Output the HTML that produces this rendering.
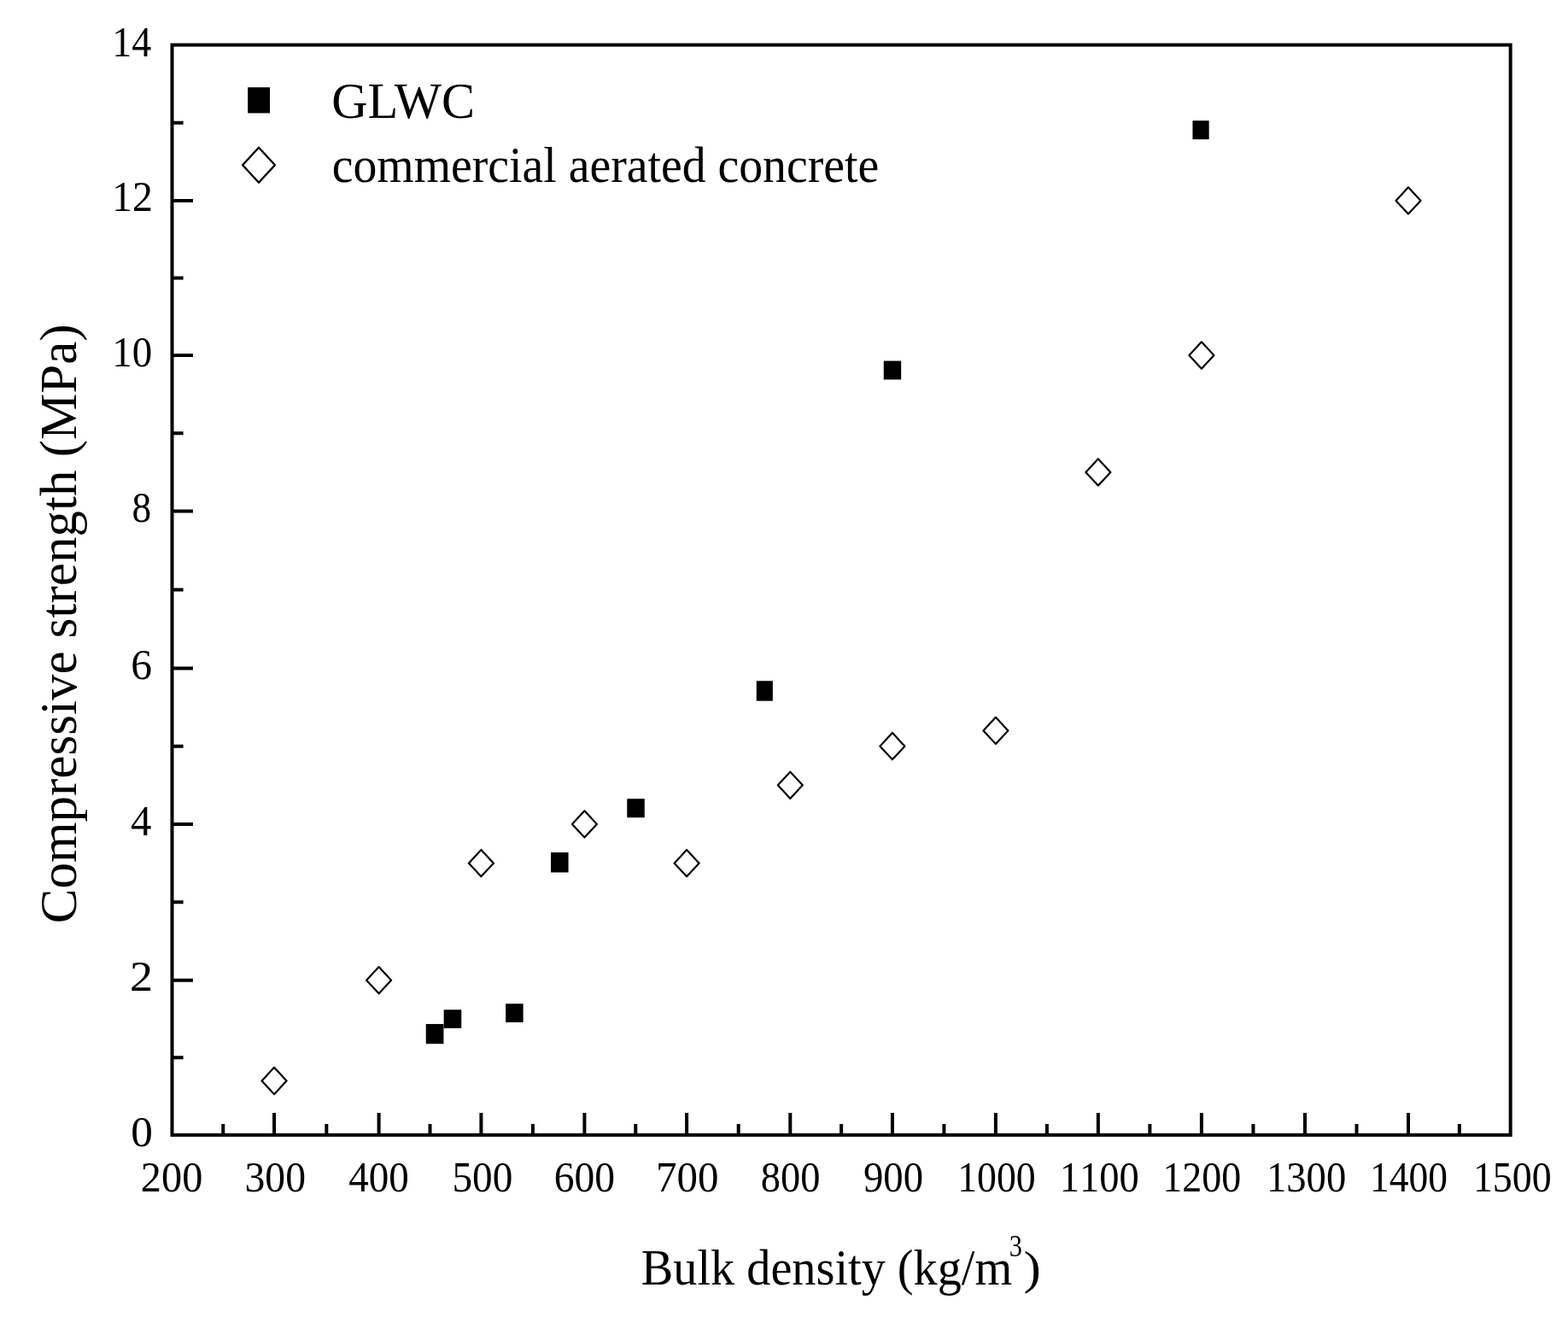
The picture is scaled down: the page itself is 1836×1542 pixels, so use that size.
<!DOCTYPE html>
<html><head><meta charset="utf-8"><title>Compressive strength vs bulk density</title>
<style>html,body{margin:0;padding:0;background:#fff;overflow:hidden} svg{display:block}</style>
</head><body>
<svg width="1836" height="1542" viewBox="0 0 1836 1542">
<rect width="1836" height="1542" fill="#fff"/>
<path d="M201.5,1238.30H214.60M201.5,1147.70H226.00M201.5,1056.33H214.60M201.5,964.95H226.00M201.5,873.67H214.60M201.5,782.40H226.00M201.5,690.45H214.60M201.5,598.50H226.00M201.5,507.25H214.60M201.5,416.00H226.00M201.5,325.45H214.60M201.5,234.90H226.00M201.5,143.75H214.60M261.27,1328.9V1315.90M321.05,1328.9V1303.10M382.33,1328.9V1315.90M443.60,1328.9V1303.10M503.50,1328.9V1315.90M563.40,1328.9V1303.10M623.90,1328.9V1315.90M684.40,1328.9V1303.10M744.25,1328.9V1315.90M804.10,1328.9V1303.10M864.70,1328.9V1315.90M925.30,1328.9V1303.10M985.10,1328.9V1315.90M1044.90,1328.9V1303.10M1105.40,1328.9V1315.90M1165.90,1328.9V1303.10M1225.88,1328.9V1315.90M1285.85,1328.9V1303.10M1346.38,1328.9V1315.90M1406.90,1328.9V1303.10M1467.45,1328.9V1315.90M1528.00,1328.9V1303.10M1588.50,1328.9V1315.90M1649.00,1328.9V1303.10M1708.83,1328.9V1315.90" stroke="#000" stroke-width="4" fill="none"/>
<rect x="201.5" y="52.6" width="1567.15" height="1276.3000000000002" fill="none" stroke="#000" stroke-width="4"/>
<text transform="matrix(0.51294,0,0,0.49926,153.18,1342.00)" font-family="Liberation Serif, 'Times New Roman', serif" font-size="100" style="font-kerning:none">0</text>
<text transform="matrix(0.54161,0,0,0.51019,152.10,1159.70)" font-family="Liberation Serif, 'Times New Roman', serif" font-size="100" style="font-kerning:none">2</text>
<text transform="matrix(0.48817,0,0,0.50646,153.02,978.30)" font-family="Liberation Serif, 'Times New Roman', serif" font-size="100" style="font-kerning:none">4</text>
<text transform="matrix(0.49591,0,0,0.50112,153.19,795.20)" font-family="Liberation Serif, 'Times New Roman', serif" font-size="100" style="font-kerning:none">6</text>
<text transform="matrix(0.45412,0,0,0.49926,154.60,611.30)" font-family="Liberation Serif, 'Times New Roman', serif" font-size="100" style="font-kerning:none">8</text>
<text transform="matrix(0.46971,0,0,0.49630,131.29,428.90)" font-family="Liberation Serif, 'Times New Roman', serif" font-size="100" style="font-kerning:none">10</text>
<text transform="matrix(0.47813,0,0,0.50868,131.02,246.80)" font-family="Liberation Serif, 'Times New Roman', serif" font-size="100" style="font-kerning:none">12</text>
<text transform="matrix(0.46017,0,0,0.51061,131.37,65.70)" font-family="Liberation Serif, 'Times New Roman', serif" font-size="100" style="font-kerning:none">14</text>
<text transform="matrix(0.48310,0,0,0.49926,164.85,1395.00)" font-family="Liberation Serif, 'Times New Roman', serif" font-size="100" style="font-kerning:none">200</text>
<text transform="matrix(0.47703,0,0,0.49926,286.53,1395.00)" font-family="Liberation Serif, 'Times New Roman', serif" font-size="100" style="font-kerning:none">300</text>
<text transform="matrix(0.47071,0,0,0.49926,408.26,1395.00)" font-family="Liberation Serif, 'Times New Roman', serif" font-size="100" style="font-kerning:none">400</text>
<text transform="matrix(0.47189,0,0,0.49926,529.49,1395.00)" font-family="Liberation Serif, 'Times New Roman', serif" font-size="100" style="font-kerning:none">500</text>
<text transform="matrix(0.47606,0,0,0.49926,648.68,1395.00)" font-family="Liberation Serif, 'Times New Roman', serif" font-size="100" style="font-kerning:none">600</text>
<text transform="matrix(0.48945,0,0,0.49926,768.12,1395.00)" font-family="Liberation Serif, 'Times New Roman', serif" font-size="100" style="font-kerning:none">700</text>
<text transform="matrix(0.46386,0,0,0.49926,890.76,1395.00)" font-family="Liberation Serif, 'Times New Roman', serif" font-size="100" style="font-kerning:none">800</text>
<text transform="matrix(0.46713,0,0,0.49926,1010.98,1395.00)" font-family="Liberation Serif, 'Times New Roman', serif" font-size="100" style="font-kerning:none">900</text>
<text transform="matrix(0.45760,0,0,0.49926,1121.20,1395.00)" font-family="Liberation Serif, 'Times New Roman', serif" font-size="100" style="font-kerning:none">1000</text>
<text transform="matrix(0.46507,0,0,0.49926,1240.73,1395.00)" font-family="Liberation Serif, 'Times New Roman', serif" font-size="100" style="font-kerning:none">1100</text>
<text transform="matrix(0.45973,0,0,0.49926,1361.18,1395.00)" font-family="Liberation Serif, 'Times New Roman', serif" font-size="100" style="font-kerning:none">1200</text>
<text transform="matrix(0.46613,0,0,0.49926,1483.02,1395.00)" font-family="Liberation Serif, 'Times New Roman', serif" font-size="100" style="font-kerning:none">1300</text>
<text transform="matrix(0.45493,0,0,0.49926,1604.12,1395.00)" font-family="Liberation Serif, 'Times New Roman', serif" font-size="100" style="font-kerning:none">1400</text>
<text transform="matrix(0.45867,0,0,0.49926,1724.89,1395.00)" font-family="Liberation Serif, 'Times New Roman', serif" font-size="100" style="font-kerning:none">1500</text>
<rect x="290.15" y="102.25" width="25.9" height="30.2" fill="#000"/>
<path d="M284.05,193.25 L303,172.8 L321.95,193.25 L303,213.7 Z" fill="#fff" stroke="#000" stroke-width="2.4" stroke-linejoin="round"/>
<text transform="matrix(0.58486,0,0,0.59400,388.16,137.90)" font-family="Liberation Serif, 'Times New Roman', serif" font-size="100">GLWC</text>
<text transform="matrix(0.55753,0,0,0.59500,388.71,212.60)" font-family="Liberation Serif, 'Times New Roman', serif" font-size="100">commercial aerated concrete</text>
<text transform="matrix(0.56263,0,0,0.59000,750.85,1503.90)" font-family="Liberation Serif, 'Times New Roman', serif" font-size="100">Bulk density (kg/m</text>
<text transform="matrix(0.30303,0,0,0.35688,1181.86,1470.54)" font-family="Liberation Serif, 'Times New Roman', serif" font-size="100">3</text>
<text transform="matrix(0.60971,0,0,0.55138,1198.42,1503.28)" font-family="Liberation Serif, 'Times New Roman', serif" font-size="100">)</text>
<text transform="matrix(0,-0.61051,0.61500,0,89.00,1081.24)" font-family="Liberation Serif, 'Times New Roman', serif" font-size="100">Compressive strength (MPa)</text>
<rect x="498.75" y="1198.95" width="20.70" height="23.20" fill="#000"/>
<rect x="519.65" y="1182.22" width="20.60" height="21.63" fill="#000"/>
<rect x="592.10" y="1175.21" width="20.51" height="21.74" fill="#000"/>
<rect x="645.05" y="998.05" width="20.50" height="23.40" fill="#000"/>
<rect x="734.25" y="935.25" width="20.50" height="22.00" fill="#000"/>
<rect x="885.75" y="797.25" width="19.10" height="23.40" fill="#000"/>
<rect x="1034.75" y="422.55" width="20.40" height="21.90" fill="#000"/>
<rect x="1396.45" y="141.25" width="19.20" height="21.90" fill="#000"/>
<path d="M306.55,1265.48 L321.05,1249.83 L335.55,1265.48 L321.05,1281.13 Z" fill="#fff" stroke="#000" stroke-width="2.2" stroke-linejoin="round"/>
<path d="M429.10,1147.70 L443.60,1132.05 L458.10,1147.70 L443.60,1163.35 Z" fill="#fff" stroke="#000" stroke-width="2.2" stroke-linejoin="round"/>
<path d="M548.90,1010.64 L563.40,994.99 L577.90,1010.64 L563.40,1026.29 Z" fill="#fff" stroke="#000" stroke-width="2.2" stroke-linejoin="round"/>
<path d="M669.90,964.95 L684.40,949.30 L698.90,964.95 L684.40,980.60 Z" fill="#fff" stroke="#000" stroke-width="2.2" stroke-linejoin="round"/>
<path d="M789.60,1010.64 L804.10,994.99 L818.60,1010.64 L804.10,1026.29 Z" fill="#fff" stroke="#000" stroke-width="2.2" stroke-linejoin="round"/>
<path d="M910.80,919.31 L925.30,903.66 L939.80,919.31 L925.30,934.96 Z" fill="#fff" stroke="#000" stroke-width="2.2" stroke-linejoin="round"/>
<path d="M1030.40,873.67 L1044.90,858.02 L1059.40,873.67 L1044.90,889.32 Z" fill="#fff" stroke="#000" stroke-width="2.2" stroke-linejoin="round"/>
<path d="M1151.40,855.42 L1165.90,839.77 L1180.40,855.42 L1165.90,871.07 Z" fill="#fff" stroke="#000" stroke-width="2.2" stroke-linejoin="round"/>
<path d="M1271.35,552.88 L1285.85,537.23 L1300.35,552.88 L1285.85,568.52 Z" fill="#fff" stroke="#000" stroke-width="2.2" stroke-linejoin="round"/>
<path d="M1392.40,416.00 L1406.90,400.35 L1421.40,416.00 L1406.90,431.65 Z" fill="#fff" stroke="#000" stroke-width="2.2" stroke-linejoin="round"/>
<path d="M1634.50,234.90 L1649.00,219.25 L1663.50,234.90 L1649.00,250.55 Z" fill="#fff" stroke="#000" stroke-width="2.2" stroke-linejoin="round"/>
</svg>
</body></html>
